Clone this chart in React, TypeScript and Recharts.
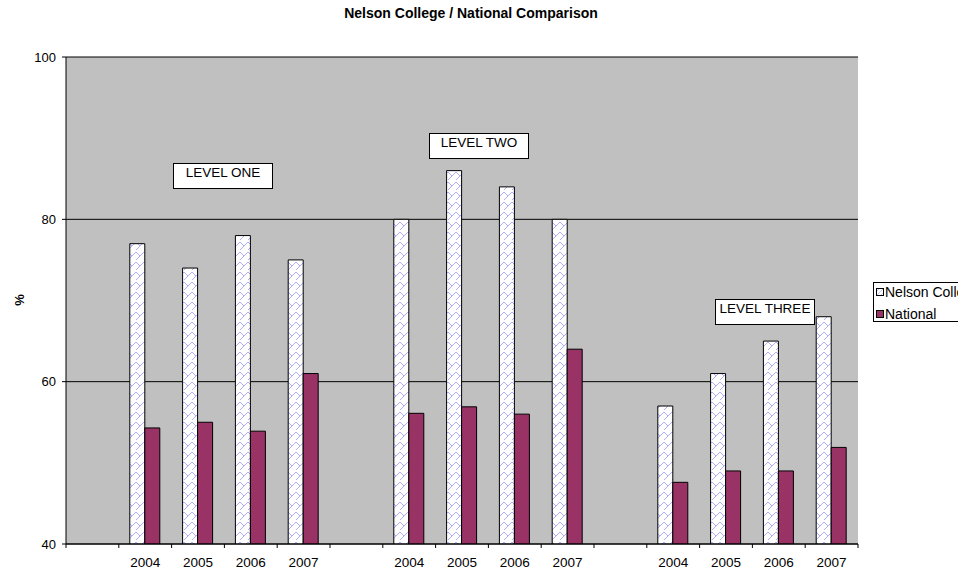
import React from 'react';
import { BarChart, Bar, XAxis, YAxis, CartesianGrid, Legend, Customized } from 'recharts';

// ---- data ----
const categories = ['', '2004', '2005', '2006', '2007', '', '2004', '2005', '2006', '2007', '', '2004', '2005', '2006', '2007'];
const nelsonValues = [null, 77, 74, 78, 75, null, 80, 86, 84, 80, null, 57, 61, 65, 68];
const nationalValues = [null, 54.3, 55, 53.9, 61, null, 56.1, 56.9, 56, 64, null, 47.6, 49, 49, 51.9];
const yTicks = [40, 60, 80, 100];
const seriesNames = ['Nelson College', 'National'];
const titleText = 'Nelson College / National Comparison';
const yLabel = '%';
const levelLabels = ['LEVEL ONE', 'LEVEL TWO', 'LEVEL THREE'];

const data = categories.map((c, i) => ({ key: i, year: c, nelson: nelsonValues[i], national: nationalValues[i] }));

// ---- layout ----
const W = 958;
const H = 574;
const PLOT_LEFT = 66;
const PLOT_RIGHT = 858;
const PLOT_TOP = 57;
const PLOT_BOTTOM = 544;
const BW = (PLOT_RIGHT - PLOT_LEFT) / categories.length;
const FONT = "'Liberation Sans', Arial, sans-serif";
const NATIONAL_COLOR = '#993366';
const PLOT_BG = '#C0C0C0';
const HATCH = '#aeb0ff';

const XTick = (props: any) => {
  const { x, y, payload, index } = props;
  const left = x - BW / 2;
  const right = x + BW / 2;
  return (
    <g>
      <line x1={left} y1={y} x2={left} y2={y + 4} stroke="#000" />
      {index === categories.length - 1 && <line x1={right} y1={y} x2={right} y2={y + 4} stroke="#000" />}
      <text x={x} y={y + 23} textAnchor="middle" fontSize={13.5} fontFamily={FONT} fill="#000">
        {categories[payload.value]}
      </text>
    </g>
  );
};

const annotationBoxes = [
  { label: levelLabels[0], x: 173, y: 163 },
  { label: levelLabels[1], x: 429, y: 133 },
  { label: levelLabels[2], x: 715, y: 299 },
];

const Overlay = () => (
  <g>
    <text x={471} y={18} textAnchor="middle" fontSize={14} fontWeight="bold" fontFamily={FONT} fill="#000">
      {titleText}
    </text>
    <text
      x={19}
      y={300}
      textAnchor="middle"
      dominantBaseline="central"
      fontSize={13}
      fontWeight="bold"
      fontFamily={FONT}
      transform="rotate(-90 19 300)"
      fill="#000"
    >
      {yLabel}
    </text>
    {annotationBoxes.map((b) => (
      <g key={b.label}>
        <rect x={b.x + 0.5} y={b.y + 0.5} width={99} height={25} fill="#fff" stroke="#000" strokeWidth={1} />
        <text x={b.x + 50} y={b.y + 14} textAnchor="middle" fontSize={13.5} fontFamily={FONT} fill="#000">
          {b.label}
        </text>
      </g>
    ))}
  </g>
);

const LegendContent = () => (
  <div
    style={{
      width: 100,
      height: 40,
      boxSizing: 'border-box',
      border: '1px solid #000',
      background: '#fff',
      fontFamily: FONT,
      fontSize: 14,
      color: '#000',
      position: 'relative',
      whiteSpace: 'nowrap',
    }}
  >
    {seriesNames.map((name, i) => (
      <div
        key={name}
        style={{ position: 'absolute', left: 1, top: i === 0 ? 0 : 22, height: 18, display: 'flex', alignItems: 'center' }}
      >
        <svg width={8} height={8} style={{ marginLeft: 1, marginRight: 1 }}>
          {i === 0 && (
            <defs>
              <pattern id="nelsonHatchLegend" patternUnits="userSpaceOnUse" width={4} height={4}>
                <rect width={4} height={4} fill="#fff" />
                <path d="M0,4 L4,0" stroke={HATCH} strokeWidth={0.8} />
              </pattern>
            </defs>
          )}
          <rect
            x={0.5}
            y={0.5}
            width={7}
            height={7}
            fill={i === 0 ? 'url(#nelsonHatchLegend)' : NATIONAL_COLOR}
            stroke="#000"
          />
        </svg>
        <span>{name}</span>
      </div>
    ))}
  </div>
);

export default function App() {
  return (
    <div style={{ position: 'absolute', left: 0, top: 0, width: W, height: H, overflow: 'hidden', background: '#fff' }}>
      <BarChart
        width={W}
        height={H}
        data={data}
        margin={{ top: PLOT_TOP, right: W - PLOT_RIGHT, bottom: 0, left: PLOT_LEFT - 40 }}
        barGap={0}
        barSize={15}
        style={{ fontFamily: FONT }}
      >
        <defs>
          <pattern id="nelsonHatch" patternUnits="userSpaceOnUse" width={8} height={10}>
            <rect width={8} height={10} fill="#ffffff" />
            <path d="M0,10 L8,2" stroke={HATCH} strokeWidth={1} />
            <path d="M0,2 L4,6" stroke={HATCH} strokeWidth={1} />
          </pattern>
        </defs>
        <CartesianGrid vertical={false} stroke="#000" fill={PLOT_BG} fillOpacity={1} horizontalValues={yTicks} />
        <XAxis
          dataKey="key"
          type="category"
          interval={0}
          height={H - PLOT_BOTTOM}
          tickSize={0}
          tickMargin={0}
          tickLine={false}
          axisLine={{ stroke: '#000' }}
          tick={<XTick />}
        />
        <YAxis
          yAxisId={0}
          width={40}
          domain={[40, 100]}
          ticks={yTicks}
          allowDataOverflow
          tickSize={4}
          tickMargin={6}
          tickLine={{ stroke: '#000' }}
          axisLine={{ stroke: '#000' }}
          tick={{ fill: '#000', fontSize: 13, fontFamily: FONT }}
        />
        <YAxis
          yAxisId="right"
          orientation="right"
          width={0}
          domain={[40, 100]}
          tick={false}
          tickLine={false}
          axisLine={{ stroke: '#808080' }}
        />
        <Bar
          dataKey="nelson"
          name={seriesNames[0]}
          fill="url(#nelsonHatch)"
          stroke="#000"
          strokeWidth={1}
          isAnimationActive={false}
        />
        <Bar
          dataKey="national"
          name={seriesNames[1]}
          fill={NATIONAL_COLOR}
          stroke="#000"
          strokeWidth={1}
          isAnimationActive={false}
        />
        <Legend
          layout="vertical"
          align="center"
          verticalAlign="middle"
          wrapperStyle={{ left: 873, top: 282, width: 100 }}
          content={<LegendContent />}
        />
        <Customized component={<Overlay />} />
      </BarChart>
    </div>
  );
}
